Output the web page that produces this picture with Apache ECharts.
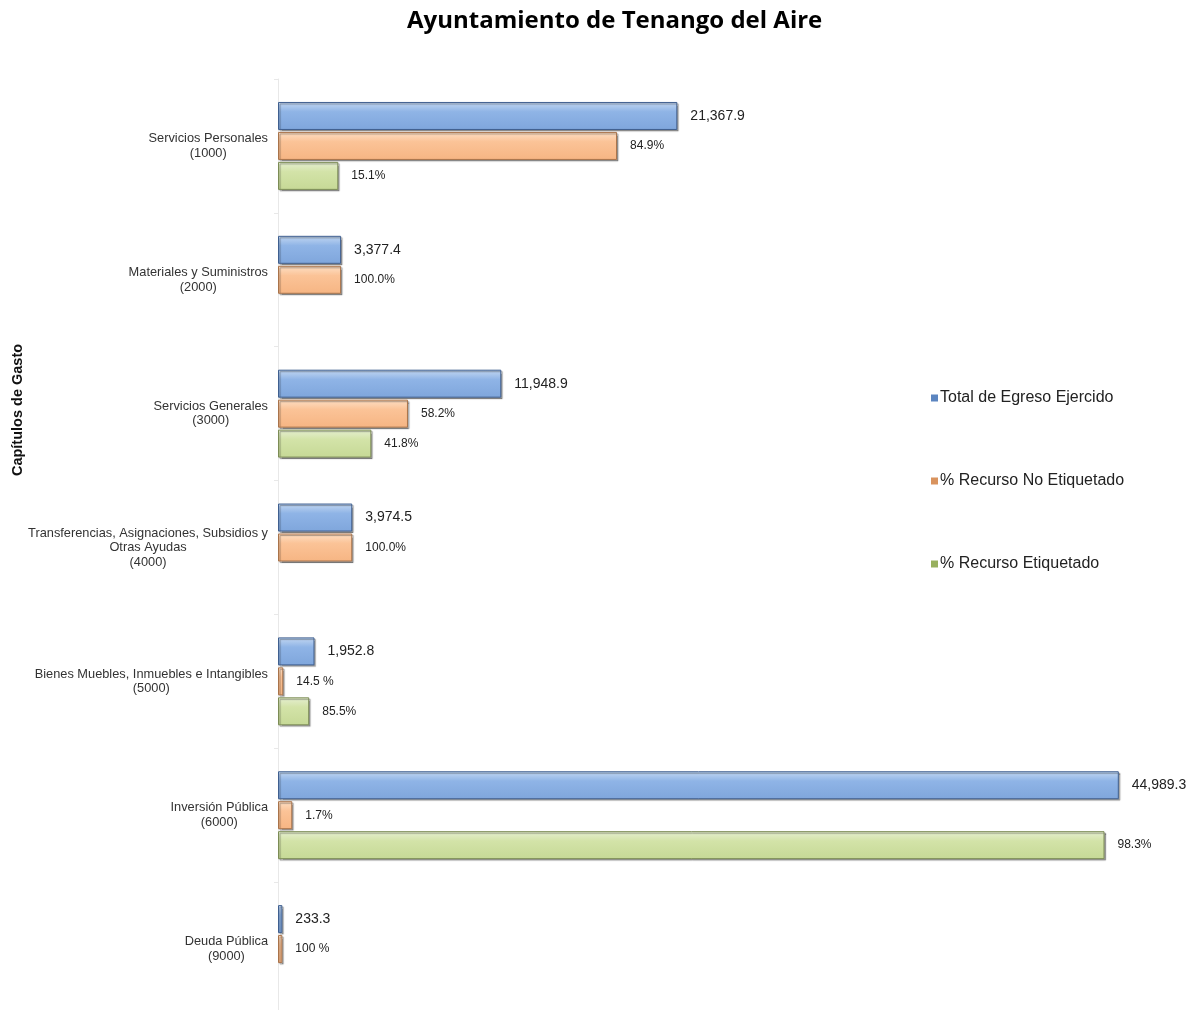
<!DOCTYPE html>
<html><head><meta charset="utf-8">
<script src="https://cdn.jsdelivr.net/npm/echarts@6/dist/echarts.min.js"></script>
<style>html,body{margin:0;padding:0;background:#fff;overflow:hidden}#c{width:1190px;height:1024px}</style>
</head><body><div id="c"></div>
<script>
const categories = [
  'Servicios Personales\n(1000)',
  'Materiales y Suministros\n(2000)',
  'Servicios Generales\n(3000)',
  'Transferencias, Asignaciones, Subsidios y\nOtras Ayudas\n(4000)',
  'Bienes Muebles, Inmuebles e Intangibles\n(5000)',
  'Inversión Pública\n(6000)',
  'Deuda Pública\n(9000)'
];
const seriesNames = ['Total de Egreso Ejercido', '% Recurso No Etiquetado', '% Recurso Etiquetado'];
const totalEgreso = [21367.9, 3377.4, 11948.9, 3974.5, 1952.8, 44989.3, 233.3];
const totalLabels = ['21,367.9', '3,377.4', '11,948.9', '3,974.5', '1,952.8', '44,989.3', '233.3'];
const pctNoEtiquetado = [84.9, 100.0, 58.2, 100.0, 14.5, 1.7, 100];
const pctNoEtiquetadoLabels = ['84.9%', '100.0%', '58.2%', '100.0%', '14.5 %', '1.7%', '100 %'];
const pctEtiquetado = [15.1, null, 41.8, null, 85.5, 98.3, null];
const pctEtiquetadoLabels = ['15.1%', '', '41.8%', '', '85.5%', '98.3%', ''];
const axisMax = 45000;

// bar length of percentage bars = share of the total amount
const share = (pcts) => pcts.map((p, i) => p == null ? null : totalEgreso[i] * p / 100);

function grad(top, mid, bottom) {
  return new echarts.graphic.LinearGradient(0, 0, 0, 1, [
    {offset: 0, color: top}, {offset: 0.35, color: mid}, {offset: 1, color: bottom}
  ]);
}
const styles = [
  {fill: grad('#c4d8f2', '#8fb4e6', '#7fa6dc'), border: '#3f5f8f', legend: '#5b85c0'},
  {fill: grad('#fde0c6', '#fbc397', '#f6b583'), border: '#a9734a', legend: '#d9935e'},
  {fill: grad('#e6efd2', '#d3e3a8', '#c6d996'), border: '#7c8c55', legend: '#98b05e'}
];
const dataSets = [totalEgreso, share(pctNoEtiquetado), share(pctEtiquetado)];
const labelSets = [totalLabels, pctNoEtiquetadoLabels, pctEtiquetadoLabels];
const labelSizes = [14, 12, 12];

const chart = echarts.init(document.getElementById('c'), null, {renderer: 'canvas'});
const series = seriesNames.map((name, s) => ({
  name: name,
  type: 'bar',
  barWidth: 28,
  barGap: '7%',
  data: dataSets[s],
  itemStyle: {
    color: styles[s].fill,
    borderColor: styles[s].border,
    borderWidth: 1,
    shadowColor: 'rgba(0,0,0,0.35)',
    shadowOffsetX: 1.5,
    shadowOffsetY: 1.5,
    shadowBlur: 1
  },
  label: {
    show: true,
    position: 'right',
    distance: 13,
    fontFamily: 'Liberation Sans, Arial, sans-serif',
    fontSize: labelSizes[s],
    color: '#222',
    formatter: (p) => labelSets[s][p.dataIndex]
  },
  emphasis: {disabled: true}
}));

const legendTops = [385, 468, 551];
chart.setOption({
  animation: false,
  backgroundColor: '#fff',
  title: {
    text: 'Ayuntamiento de Tenango del Aire',
    left: 402,
    top: 4,
    textStyle: {fontFamily: 'Open Sans, sans-serif', fontWeight: 'bold', fontSize: 24, color: '#000'}
  },
  legend: seriesNames.map((n, i) => ({
    data: [{name: n, itemStyle: {color: styles[i].legend, borderWidth: 0, shadowBlur: 0, shadowOffsetX: 0, shadowOffsetY: 0}}],
    left: 926,
    top: legendTops[i],
    icon: 'rect',
    itemWidth: 7,
    itemHeight: 7,
    itemGap: 2,
    selectedMode: false,
    textStyle: {fontFamily: 'Liberation Sans, Arial, sans-serif', fontSize: 16, color: '#222', padding: [0, 0, 0, -3]}
  })),
  grid: {left: 278, top: 79, width: 841, height: 937, containLabel: false},
  xAxis: {
    type: 'value', min: 0, max: axisMax, show: false
  },
  yAxis: {
    type: 'category',
    inverse: true,
    data: categories,
    axisLine: {show: true, lineStyle: {color: '#e8e8e8', width: 1}},
    axisTick: {show: true, length: 4, lineStyle: {color: '#e8e8e8'}},
    axisLabel: {
      margin: 10,
      formatter: (v) => v.split('\n').map(l => '{c|' + l + '}').join('\n'),
      rich: {c: {align: 'center', fontFamily: 'Liberation Sans, Arial, sans-serif', fontSize: 12.8, lineHeight: 14.5, color: '#333'}}
    }
  },
  graphic: [{
    type: 'text',
    x: 18, y: 410,
    rotation: Math.PI / 2,
    style: {
      text: 'Capítulos de Gasto',
      fontFamily: 'Liberation Sans, Arial, sans-serif',
      fontWeight: 'bold',
      fontSize: 14.5,
      fill: '#111',
      align: 'center',
      verticalAlign: 'middle'
    }
  }],
  series: series
});
</script></body></html>
